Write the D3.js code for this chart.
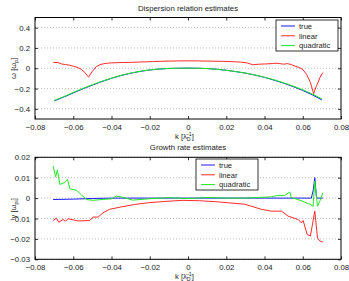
<!DOCTYPE html>
<html>
<head>
<meta charset="utf-8">
<script src="https://cdn.jsdelivr.net/npm/d3@7"></script>
<style>
  body { margin: 0; background: #fff; }
  text { font-family: "Liberation Sans", Arial, sans-serif; fill: #222; }
</style>
</head>
<body>
<script>
// ---- data ----
const seriesNames = ['true', 'linear', 'quadratic']
const seriesColors = ['#1a1aff', '#ff2a2a', '#22e622']

const xTicks = [-0.08, -0.06, -0.04, -0.02, 0, 0.02, 0.04, 0.06, 0.08]
const omegaTicks = [-0.4, -0.2, 0, 0.2, 0.4]
const gammaTicks = [-0.03, -0.02, -0.01, 0, 0.01, 0.02]

// dispersion: smooth estimates on a common k grid
const kGrid = [-0.07, -0.065, -0.06, -0.055, -0.05, -0.045, -0.04, -0.035, -0.03, -0.025, -0.02, -0.015, -0.01, -0.005, 0,
  0.005, 0.01, 0.015, 0.02, 0.025, 0.03, 0.035, 0.04, 0.045, 0.05, 0.055, 0.06, 0.065, 0.07]
const omegaTrue = [-0.322, -0.284, -0.243, -0.203, -0.166, -0.131, -0.099, -0.072, -0.049, -0.031, -0.017, -0.008, -0.002, 0.0, 0.001,
  0.0, -0.003, -0.010, -0.020, -0.033, -0.048, -0.067, -0.090, -0.117, -0.147, -0.181, -0.219, -0.262, -0.312]
const omegaQuad = [-0.318, -0.280, -0.238, -0.199, -0.162, -0.128, -0.097, -0.070, -0.047, -0.030, -0.016, -0.007, -0.002, 0.0, 0.001,
  0.0, -0.003, -0.010, -0.020, -0.033, -0.047, -0.066, -0.088, -0.114, -0.143, -0.176, -0.212, -0.254, -0.302]

const kOmegaLin = [-0.0705, -0.068, -0.066, -0.064, -0.062, -0.060, -0.058, -0.056, -0.054, -0.052, -0.050, -0.048, -0.046,
  -0.044, -0.042, -0.040, -0.036, -0.030, -0.024, -0.018, -0.012, -0.006, 0.0, 0.006, 0.012, 0.018, 0.024, 0.028, 0.031,
  0.034, 0.037, 0.040, 0.044, 0.046, 0.048, 0.050, 0.052, 0.054, 0.056, 0.058, 0.060, 0.062, 0.064, 0.0657, 0.0672,
  0.068, 0.069, 0.0705]
const omegaLin = [0.058, 0.056, 0.042, 0.036, 0.031, 0.021, 0.010, -0.008, -0.040, -0.088, -0.030, 0.015, 0.035,
  0.045, 0.050, 0.053, 0.056, 0.058, 0.062, 0.066, 0.070, 0.072, 0.073, 0.072, 0.070, 0.068, 0.064, 0.060, 0.052,
  0.034, 0.040, 0.042, 0.046, 0.050, 0.046, 0.040, 0.046, 0.036, 0.020, 0.008, -0.012, -0.060, -0.140, -0.250, -0.170,
  -0.140, -0.090, -0.043]

// growth rate
const kGamTrue = [-0.0705, -0.06, -0.05, -0.04, -0.02, 0.0, 0.02, 0.04, 0.06, 0.0645, 0.0655, 0.0663, 0.0672, 0.068, 0.0705]
const gammaTrue = [-0.0007, -0.0005, -0.0002, 0.0, 0.0, 0.0, 0.0, 0.0, 0.0, 0.0, 0.004, 0.0100, 0.0002, 0.0, 0.0]

const kGamLin = [-0.0705, -0.0688, -0.0676, -0.0653, -0.064, -0.0627, -0.0575, -0.0514, -0.0497, -0.047, -0.0444, -0.041,
  -0.0348, -0.0278, -0.02, -0.01, -0.0026, 0.006, 0.015, 0.0297, 0.0384, 0.0436, 0.0489, 0.0523, 0.0576, 0.0593, 0.0602,
  0.0623, 0.064, 0.0663, 0.0677, 0.0689, 0.0705]
const gammaLin = [-0.0110, -0.0098, -0.0118, -0.0105, -0.0113, -0.0101, -0.0112, -0.0110, -0.0093, -0.0093, -0.0072, -0.0055,
  -0.0043, -0.0031, -0.0022, -0.0015, -0.0011, -0.0013, -0.0018, -0.0030, -0.0055, -0.0064, -0.0064, -0.0088, -0.0105, -0.0121, -0.0110,
  -0.0178, -0.0186, -0.0064, -0.0195, -0.0210, -0.0216]

const kGamQuad = [-0.0705, -0.0692, -0.0683, -0.067, -0.0648, -0.063, -0.0618, -0.0582, -0.0557, -0.053, -0.0497, -0.044,
  -0.040, -0.0374, -0.034, -0.029, -0.02, -0.01, 0.0, 0.01, 0.02, 0.0297, 0.0436, 0.047, 0.0506, 0.0532, 0.054, 0.0576,
  0.061, 0.0637, 0.0654, 0.0663, 0.0677, 0.0689, 0.0705]
const gammaQuad = [0.0157, 0.0104, 0.0137, 0.0067, 0.0075, 0.0092, 0.0046, 0.0038, 0.0015, -0.0007, -0.0011, -0.0006,
  -0.0004, 0.0010, 0.0004, -0.0010, -0.0003, 0.0002, -0.0002, 0.0003, 0.0, 0.0, 0.0006, 0.0013, 0.0013, 0.0030, 0.0002, -0.0007,
  -0.0020, -0.0030, -0.0040, 0.0083, -0.0040, -0.0015, 0.0026]

// ---- drawing ----
const svg = d3.select('body').append('svg').attr('width', 349).attr('height', 281)

function drawPanel(opt) {
  const x = d3.scaleLinear().domain([-0.08, 0.08]).range([35, 341])
  const y = d3.scaleLinear().domain(opt.yDomain).range([opt.bottom, opt.top])
  const g = svg.append('g')

  // dotted horizontal grid
  g.selectAll('line.grid').data(opt.yTicks).enter().append('line')
    .attr('x1', 35).attr('x2', 341)
    .attr('y1', d => y(d)).attr('y2', d => y(d))
    .attr('stroke', '#aaa').attr('stroke-width', 0.8).attr('stroke-dasharray', '1,2')

  // series
  const line = d3.line().x(d => x(d[0])).y(d => y(d[1]))
  opt.series.forEach((s, i) => {
    const pts = s.k.map((k, j) => [k, s.v[j]])
    g.append('path').datum(pts).attr('d', line)
      .attr('fill', 'none').attr('stroke', s.color).attr('stroke-width', 1)
  })

  // axes (ticks inward, box)
  const xb = g.append('g').attr('transform', `translate(0,${opt.bottom})`)
    .call(d3.axisBottom(x).tickValues(xTicks).tickSize(-3).tickPadding(5).tickFormat(d => d === 0 ? '0' : d3.format('.2f')(d).replace('-', '\u2212')))
  const xt = g.append('g').attr('transform', `translate(0,${opt.top})`)
    .call(d3.axisTop(x).tickValues(xTicks).tickSize(-3).tickFormat(''))
  const yl = g.append('g').attr('transform', 'translate(35,0)')
    .call(d3.axisLeft(y).tickValues(opt.yTicks).tickSize(-3).tickPadding(5).tickFormat(opt.fmt))
  const yr = g.append('g').attr('transform', 'translate(341,0)')
    .call(d3.axisRight(y).tickValues(opt.yTicks).tickSize(-3).tickFormat(''))
  ;[xb, xt, yl, yr].forEach(a => {
    a.select('.domain').remove()
    a.selectAll('line').attr('stroke', '#000').attr('stroke-width', 0.8)
    a.selectAll('text').attr('font-size', 7.8).attr('fill', '#222')
      .attr('font-family', '"Liberation Sans", Arial, sans-serif')
  })
  g.append('rect').attr('x', 35).attr('y', opt.top).attr('width', 306).attr('height', opt.bottom - opt.top)
    .attr('fill', 'none').attr('stroke', '#000').attr('stroke-width', 1)

  // title
  g.append('text').attr('x', 188).attr('y', opt.top - 7).attr('text-anchor', 'middle')
    .attr('font-size', 7.8).text(opt.title)

  // x label
  const xlab = g.append('text').attr('x', 175).attr('y', opt.bottom + 19.5).attr('font-size', 7.6)
  xlab.append('tspan').text('k [\u03bb')
  xlab.append('tspan').attr('font-size', 5.3).attr('dy', 2).text('D')
  xlab.append('tspan').attr('font-size', 5.3).attr('dx', -5).attr('dy', -5).text('\u22121')
  xlab.append('tspan').attr('dy', 3).text(']')

  // y label
  const ylab = g.append('text')
    .attr('transform', `translate(16,${(opt.top + opt.bottom) / 2}) rotate(-90)`)
    .attr('text-anchor', 'middle').attr('font-size', 7.6)
  ylab.append('tspan').text(opt.ySym + ' [\u03c9')
  ylab.append('tspan').attr('font-size', 5.5).attr('dy', 2).text(opt.ySub)
  ylab.append('tspan').attr('dy', -2).text(']')

  // legend
  const lg = g.append('g').attr('transform', `translate(${opt.legX},${opt.legY})`)
  lg.append('rect').attr('width', 62).attr('height', 31)
    .attr('fill', '#fff').attr('stroke', '#000').attr('stroke-width', 0.8)
  opt.series.forEach((s, i) => {
    const yy = 6 + i * 9.8
    lg.append('line').attr('x1', 5).attr('x2', 19).attr('y1', yy).attr('y2', yy)
      .attr('stroke', s.color).attr('stroke-width', 1)
    lg.append('text').attr('x', 23).attr('y', yy + 2.7).attr('font-size', 7.6).text(seriesNames[i])
  })
}

drawPanel({
  title: 'Dispersion relation estimates',
  top: 17.5, bottom: 119,
  yDomain: [-0.5, 0.5], yTicks: omegaTicks,
  fmt: d => d === 0 ? '0' : d3.format('.1f')(d).replace('-', '\u2212'),
  ySym: '\u03c9', ySub: 'p',
  legX: 276, legY: 20,
  series: [
    { k: kGrid, v: omegaTrue, color: seriesColors[0] },
    { k: kOmegaLin, v: omegaLin, color: seriesColors[1] },
    { k: kGrid, v: omegaQuad, color: seriesColors[2] }
  ]
})

drawPanel({
  title: 'Growth rate estimates',
  top: 157.3, bottom: 259.3,
  yDomain: [-0.03, 0.02], yTicks: gammaTicks,
  fmt: d => d === 0 ? '0' : d3.format('.2f')(d).replace('-', '\u2212'),
  ySym: '\u03b3', ySub: 'pi',
  legX: 196, legY: 159,
  series: [
    { k: kGamTrue, v: gammaTrue, color: seriesColors[0] },
    { k: kGamLin, v: gammaLin, color: seriesColors[1] },
    { k: kGamQuad, v: gammaQuad, color: seriesColors[2] }
  ]
})
</script>
</body>
</html>
